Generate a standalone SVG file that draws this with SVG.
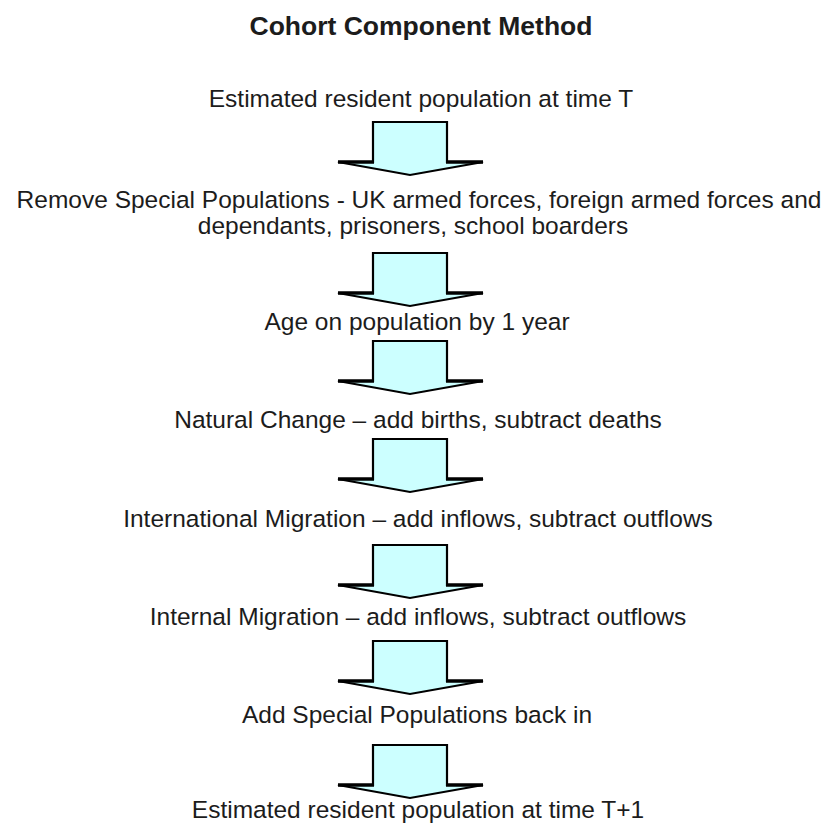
<svg xmlns="http://www.w3.org/2000/svg" xmlns:xlink="http://www.w3.org/1999/xlink" width="834" height="825" viewBox="0 0 834 825">
<style>
  text { font-family: "Liberation Sans", Arial, sans-serif; fill: #1c1c1c; text-anchor: middle; }
  .title { font-size: 26.5px; font-weight: bold; }
  .lbl { font-size: 24.5px; }
  .arrow { fill: #CCFFFF; stroke: #000; stroke-width: 2.2; stroke-linejoin: miter; }
  .shoulder { fill: none; stroke: #000; stroke-width: 3.5; }
</style>
<defs>
  <g id="downArrow">
    <path class="arrow" d="M373,0 H447 V40 H483 L410,53 L338,40 H373 Z"/>
    <path class="shoulder" d="M338,40 H374 M446,40 H483"/>
  </g>
</defs>
<rect width="834" height="825" fill="#fff"/>
<g id="title"><text class="title" x="421" y="35">Cohort Component Method</text></g>
<g id="n1"><text class="lbl" x="421" y="107">Estimated resident population at time T</text></g>
<g id="n2"><text class="lbl" x="419" y="208">Remove Special Populations - UK armed forces, foreign armed forces and</text><text class="lbl" x="413" y="234">dependants, prisoners, school boarders</text></g>
<g id="n3"><text class="lbl" x="417" y="330">Age on population by 1 year</text></g>
<g id="n4"><text class="lbl" x="418" y="428">Natural Change – add births, subtract deaths</text></g>
<g id="n5"><text class="lbl" x="418" y="527">International Migration – add inflows, subtract outflows</text></g>
<g id="n6"><text class="lbl" x="418" y="625">Internal Migration – add inflows, subtract outflows</text></g>
<g id="n7"><text class="lbl" x="417" y="723">Add Special Populations back in</text></g>
<g id="n8"><text class="lbl" x="418" y="818">Estimated resident population at time T+1</text></g>
<g id="connectors">
  <use xlink:href="#downArrow" transform="translate(0,122)"/>
  <use xlink:href="#downArrow" transform="translate(0,253)"/>
  <use xlink:href="#downArrow" transform="translate(0,341)"/>
  <use xlink:href="#downArrow" transform="translate(0,439)"/>
  <use xlink:href="#downArrow" transform="translate(0,545)"/>
  <use xlink:href="#downArrow" transform="translate(0,641)"/>
  <use xlink:href="#downArrow" transform="translate(0,745)"/>
</g>
</svg>
